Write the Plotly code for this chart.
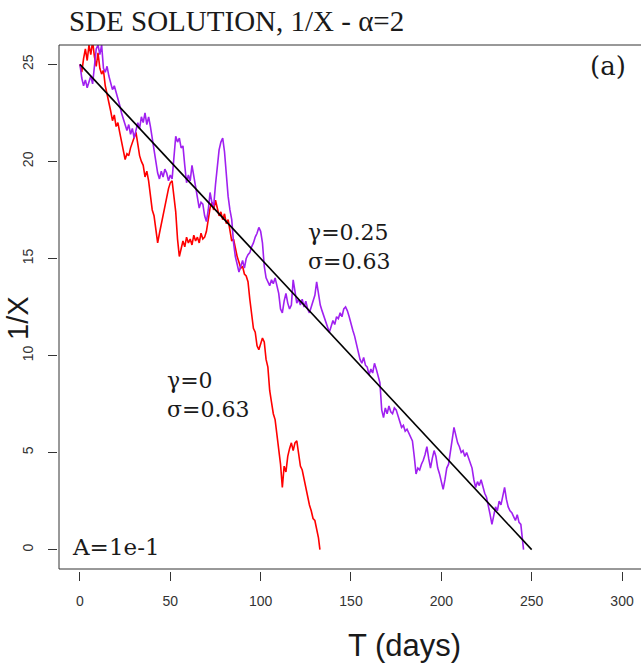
import plotly.graph_objects as go

# ---------------- data ----------------
red_t = [0, 1, 2, 3, 4, 5, 6, 7, 8, 9, 10, 11, 12, 13, 14, 15, 16, 17, 18, 19,
         20, 21, 22, 23, 24, 25, 26, 27, 28, 29, 30, 31, 32, 33, 34, 35, 36, 37, 38, 39,
         40, 41, 42, 43, 44, 45, 46, 47, 48, 49, 50, 51, 52, 53, 54, 55, 56, 57, 58, 59,
         60, 61, 62, 63, 64, 65, 66, 67, 68, 69, 70, 71, 72, 73, 74, 75, 76, 77, 78, 79,
         80, 81, 82, 83, 84, 85, 86, 87, 88, 89, 90, 91, 92, 93, 94, 95, 96, 97, 98, 99,
         100, 101, 102, 103, 104, 105, 106, 107, 108, 109, 110, 111, 112, 113, 114, 115,
         116, 117, 118, 119, 120, 121, 122, 123, 124, 125, 126, 127, 128, 129, 130, 131,
         132, 132.8]
red_v = [25.0, 24.6, 25.3, 25.8, 25.2, 26.0, 25.5, 26.2, 25.4, 24.9, 25.6, 24.8, 24.5, 24.7,
         23.9, 23.5, 23.0, 22.6, 22.1, 22.4, 21.8, 22.0, 21.5, 21.0, 20.6, 20.1, 20.4, 20.3,
         20.7, 21.0, 21.2, 21.5, 20.9, 20.3, 20.0, 19.8, 19.2, 19.5, 19.0, 18.2, 17.5, 17.2,
         16.4, 15.8, 16.3, 16.8, 17.2, 17.8, 18.3, 18.6, 18.9, 19.0, 18.2, 17.4, 16.0, 15.1,
         15.5, 15.9, 15.6, 16.1, 15.8, 16.0, 15.7, 16.2, 15.9, 16.1, 15.8, 16.3, 16.0, 16.1,
         16.4, 17.0, 17.6, 17.9, 17.5, 18.0, 17.6, 17.2, 17.4, 17.0, 17.3, 16.8, 17.0, 16.4,
         15.9, 16.0, 15.5, 15.1, 14.8, 14.5, 14.6, 14.2, 14.1, 13.8, 12.9, 12.0, 11.4, 11.2,
         10.5, 10.3, 10.6, 10.9, 10.7, 9.8, 9.4, 8.2, 7.6, 7.0, 6.7, 5.9, 5.2, 4.4, 3.2, 4.3,
         4.0, 4.8, 5.2, 5.5, 5.1, 5.5, 5.6, 5.0, 4.3, 4.1, 3.6, 3.2, 2.6, 2.3, 2.0, 1.6, 1.5,
         1.1, 0.6, 0.0]

purple_t = list(range(0, 246)) + [245.5]
purple_v = [25.0, 24.3, 23.9, 24.2, 23.8, 24.1, 24.4, 24.0, 25.0, 25.8,
            26.0, 25.5, 26.0, 24.8, 24.6, 24.9, 24.4, 24.0, 23.7, 23.9,
            23.6, 23.2, 22.9, 22.5, 22.2, 22.0, 21.6, 21.9, 21.4, 21.7,
            21.2, 21.6, 22.0, 21.7, 22.3, 22.0, 22.5, 21.9, 22.3, 21.8,
            21.2, 20.8, 20.1, 19.4, 19.1, 19.5, 19.2, 19.6, 19.4, 19.0,
            19.3, 19.1, 20.2, 21.3, 21.0, 21.2, 20.7, 20.8, 19.8, 18.9,
            19.3, 19.0, 19.8, 19.2, 18.6, 18.1, 17.6, 17.9, 17.8, 17.2,
            16.9, 17.5, 18.4, 17.9, 17.7, 18.8, 19.8, 20.6, 21.0, 21.2,
            20.5, 19.1, 18.2, 17.5, 17.0, 15.8, 15.1, 14.7, 14.3, 14.6,
            14.9, 14.5, 15.0, 15.2, 15.3, 15.6, 15.8, 16.1, 16.3, 16.6,
            16.4, 15.8, 14.6, 14.0, 13.8, 13.6, 13.9, 13.7, 14.0, 13.6,
            13.2, 12.4, 12.2, 12.8, 13.2, 12.7, 12.4, 12.6, 13.9, 13.3,
            12.7, 12.9, 12.6, 12.9, 12.5, 12.8, 12.4, 12.2, 12.5, 12.7,
            13.1, 13.8, 13.2, 12.6, 12.3, 12.0, 11.8, 11.5, 11.2, 11.5,
            11.8, 11.6, 12.0, 11.9, 12.2, 12.0, 12.4, 12.5, 12.3, 12.0,
            11.6, 11.3, 11.0, 10.6, 10.2, 9.8, 9.6, 9.9, 9.5, 9.4,
            9.0, 9.3, 9.1, 9.6, 9.3, 9.0, 8.6, 7.2, 6.8, 7.3,
            7.0, 7.4, 7.1, 7.0, 7.3, 7.2, 6.9, 6.6, 6.3, 6.4,
            6.1, 6.2, 6.0, 5.8, 5.6, 4.8, 3.9, 4.2, 4.1, 4.4,
            4.6, 4.9, 5.3, 4.7, 4.2, 4.7, 5.1, 4.8, 4.2, 3.9,
            3.5, 3.1, 3.6, 4.2, 4.4, 5.0, 5.7, 6.3, 5.9, 5.5,
            5.3, 5.0, 5.1, 4.8, 5.0, 4.7, 4.5, 4.2, 3.6, 3.2,
            3.5, 3.3, 3.6, 3.2, 2.9, 2.7, 2.3, 1.8, 1.3, 1.8,
            2.2, 2.0, 2.5, 2.3, 2.8, 3.2, 2.6, 2.2, 2.0, 1.9,
            1.7, 1.5, 1.8, 1.4, 1.3, 0.6, 0.0]

trend_t = [0, 250]
trend_v = [25, 0]

x_ticks = [0, 50, 100, 150, 200, 250, 300]
y_ticks = [0, 5, 10, 15, 20, 25]

# ---------------- layout geometry (pixels) ----------------
W, H = 641, 667
L, R, T, B = 57, 641, 45, 571   # margin edges
BOX_L, BOX_B = 59, 569           # box drawn slightly inside axes (R style gap)


def px(x):
    return (x - L) / (R - L)


def py(y):
    return (B - y) / (B - T)


fig = go.Figure()
fig.add_trace(go.Scatter(x=red_t, y=red_v, mode="lines",
                         line=dict(color="#FF0000", width=1.6), showlegend=False))
fig.add_trace(go.Scatter(x=purple_t, y=purple_v, mode="lines",
                         line=dict(color="#A020F0", width=1.6), showlegend=False))
fig.add_trace(go.Scatter(x=trend_t, y=trend_v, mode="lines",
                         line=dict(color="#000000", width=1.6), showlegend=False))

tickfont = dict(family="Liberation Sans, Arial", size=14, color="#333")
fig.update_layout(
    width=W, height=H,
    margin=dict(l=L, r=W - R, t=T, b=H - B, pad=0),
    paper_bgcolor="white", plot_bgcolor="white",
    xaxis=dict(domain=[px(BOX_L), 1], range=[-11.6, 310.5], anchor="free", position=0,
               tickvals=x_ticks, ticktext=[str(v) for v in x_ticks],
               ticks="outside", ticklen=9, tickcolor="#333", tickwidth=1,
               showgrid=False, zeroline=False, showline=False,
               tickfont=tickfont, ticklabelstandoff=8),
    yaxis=dict(domain=[py(BOX_B), 1], range=[-1, 26], anchor="free", position=0,
               tickvals=y_ticks, ticktext=[str(v) for v in y_ticks],
               ticks="outside", ticklen=9, tickcolor="#333", tickwidth=1,
               showgrid=False, zeroline=False, showline=False, tickangle=-90,
               tickfont=tickfont, ticklabelstandoff=9),
)

# box (left, top, bottom) — right side lies outside the image
line_style = dict(color="#333", width=1)
fig.add_shape(type="line", xref="paper", yref="paper",
              x0=px(BOX_L), x1=1.02, y0=py(BOX_B), y1=py(BOX_B), line=line_style)
fig.add_shape(type="line", xref="paper", yref="paper",
              x0=px(BOX_L), x1=1.02, y0=1, y1=1, line=line_style)
fig.add_shape(type="line", xref="paper", yref="paper",
              x0=px(BOX_L), x1=px(BOX_L), y0=py(BOX_B), y1=1, line=line_style)

serif_t = "Liberation Serif, Times New Roman, serif"
serif = "DejaVu Serif, serif"
sans = "Liberation Sans, Arial, sans-serif"


def ann(text, x, y, size, family, xanchor="left", angle=0):
    fig.add_annotation(text=text, xref="paper", yref="paper", x=px(x), y=py(y),
                       xanchor=xanchor, yanchor="middle", showarrow=False, align="left",
                       textangle=angle, font=dict(family=family, size=size, color="#1a1a1a"))


ann("SDE SOLUTION, 1/X - α=2", 67, 21, 29, serif_t)
ann("(a)", 608, 66, 26, serif, xanchor="center")
ann("γ=0.25<br>σ=0.63", 306, 247, 22, serif)
ann("γ=0<br>σ=0.63", 165, 395, 22, serif)
ann("A=1e-1", 70, 547, 23, serif)
ann("T (days)", 404, 645, 31, sans, xanchor="center")
ann("1/X", 18, 318, 29, sans, xanchor="center", angle=-90)

fig.write_html("out.html")
